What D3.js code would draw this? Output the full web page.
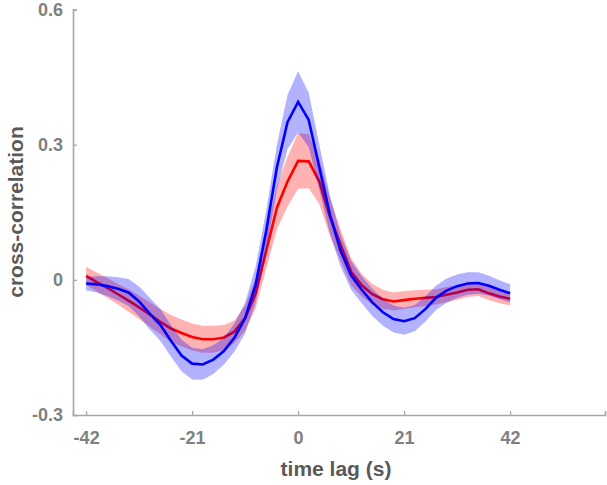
<!DOCTYPE html>
<html><head><meta charset="utf-8">
<script src="https://cdn.jsdelivr.net/npm/d3@7"></script>
<style>body{margin:0;background:#fff;} svg{display:block;}</style>
</head><body>
<svg id="chart" width="607" height="485"></svg>
<script>
const lags = [-42,-39.9,-37.8,-35.7,-33.6,-31.5,-29.4,-27.3,-25.2,-23.1,-21,-18.9,-16.8,-14.7,-12.6,-10.5,-8.4,-6.3,-4.2,-2.1,0,2.1,4.2,6.3,8.4,10.5,12.6,14.7,16.8,18.9,21,23.1,25.2,27.3,29.4,31.5,33.6,35.7,37.8,39.9,42];
const blueMean = [-0.008,-0.010,-0.014,-0.020,-0.028,-0.048,-0.075,-0.100,-0.135,-0.168,-0.186,-0.188,-0.177,-0.158,-0.128,-0.085,-0.010,0.110,0.250,0.350,0.395,0.355,0.250,0.145,0.065,0.010,-0.022,-0.050,-0.072,-0.087,-0.092,-0.085,-0.065,-0.040,-0.024,-0.014,-0.008,-0.007,-0.013,-0.022,-0.030];
const blueErr = [0.015,0.018,0.022,0.026,0.030,0.033,0.035,0.035,0.035,0.035,0.035,0.034,0.032,0.030,0.031,0.034,0.040,0.045,0.050,0.060,0.068,0.060,0.050,0.042,0.035,0.032,0.030,0.030,0.030,0.030,0.030,0.029,0.028,0.027,0.027,0.026,0.025,0.024,0.022,0.021,0.020];
const redMean = [0.009,-0.005,-0.018,-0.032,-0.046,-0.061,-0.077,-0.093,-0.108,-0.118,-0.127,-0.132,-0.132,-0.128,-0.115,-0.085,-0.030,0.065,0.160,0.218,0.264,0.263,0.218,0.140,0.078,0.018,-0.012,-0.032,-0.043,-0.048,-0.045,-0.042,-0.040,-0.038,-0.033,-0.028,-0.022,-0.021,-0.030,-0.037,-0.042];
const redErr = [0.020,0.021,0.022,0.023,0.025,0.026,0.027,0.028,0.030,0.030,0.030,0.030,0.030,0.028,0.025,0.028,0.033,0.040,0.048,0.055,0.062,0.060,0.050,0.042,0.035,0.030,0.025,0.023,0.021,0.020,0.020,0.019,0.018,0.017,0.017,0.016,0.016,0.015,0.015,0.015,0.015];
const xTicks = [-42,-21,0,21,42];
const yTicks = [-0.3,0,0.3,0.6];
const xTickLabels = ["-42","-21","0","21","42"];
const yTickLabels = ["-0.3","0","0.3","0.6"];

const svg = d3.select("#chart");
const x = d3.scaleLinear().domain([-44.6, 60.8]).range([73, 605]);
const y = d3.scaleLinear().domain([-0.3, 0.6]).range([415, 9.5]);
const axisColor = "#a6a6a6", tickText = "#808080";
const font = "Liberation Sans, Arial, sans-serif";

function drawSeries(mean, err, lineColor, bandColor){
  const pts = lags.map((t,i)=>({t, m:mean[i], e:err[i]}));
  svg.append("path").datum(pts)
    .attr("d", d3.area().x(d=>x(d.t)).y0(d=>y(d.m-d.e)).y1(d=>y(d.m+d.e)))
    .attr("fill", bandColor).attr("fill-opacity", 0.3).attr("stroke","none");
  svg.append("path").datum(pts)
    .attr("d", d3.line().x(d=>x(d.t)).y(d=>y(d.m)))
    .attr("fill","none").attr("stroke", lineColor).attr("stroke-width", 2.6)
    .attr("stroke-linejoin","miter");
}
drawSeries(redMean, redErr, "#ff0000", "#ff0000");
drawSeries(blueMean, blueErr, "#0000ff", "#0000ff");

const xAxis = svg.append("g").attr("transform","translate(0,415)")
  .call(d3.axisBottom(x).tickValues(xTicks).tickSize(-4).tickPadding(16).tickFormat((d,i)=>xTickLabels[i]));
const yAxis = svg.append("g").attr("transform","translate(73,0)")
  .call(d3.axisLeft(y).tickValues(yTicks).tickSize(-4).tickPadding(10).tickFormat((d,i)=>yTickLabels[i]));
[xAxis,yAxis].forEach(g=>{
  g.select(".domain").attr("stroke",axisColor).attr("stroke-width",1.6);
  g.selectAll(".tick line").attr("stroke",axisColor).attr("stroke-width",1.2);
  g.selectAll(".tick text").attr("fill",tickText).attr("font-family",font)
    .attr("font-weight","bold").attr("font-size","18px");
});

svg.append("text").attr("x", 336).attr("y", 476).attr("text-anchor","middle")
  .attr("font-family",font).attr("font-weight","bold")
  .attr("font-size","21px").attr("fill","#595959").text("time lag (s)");
svg.append("text").attr("transform","translate(23,212) rotate(-90)").attr("text-anchor","middle")
  .attr("font-family",font).attr("font-weight","bold")
  .attr("font-size","21px").attr("fill","#595959").text("cross-correlation");
</script>
</body></html>
